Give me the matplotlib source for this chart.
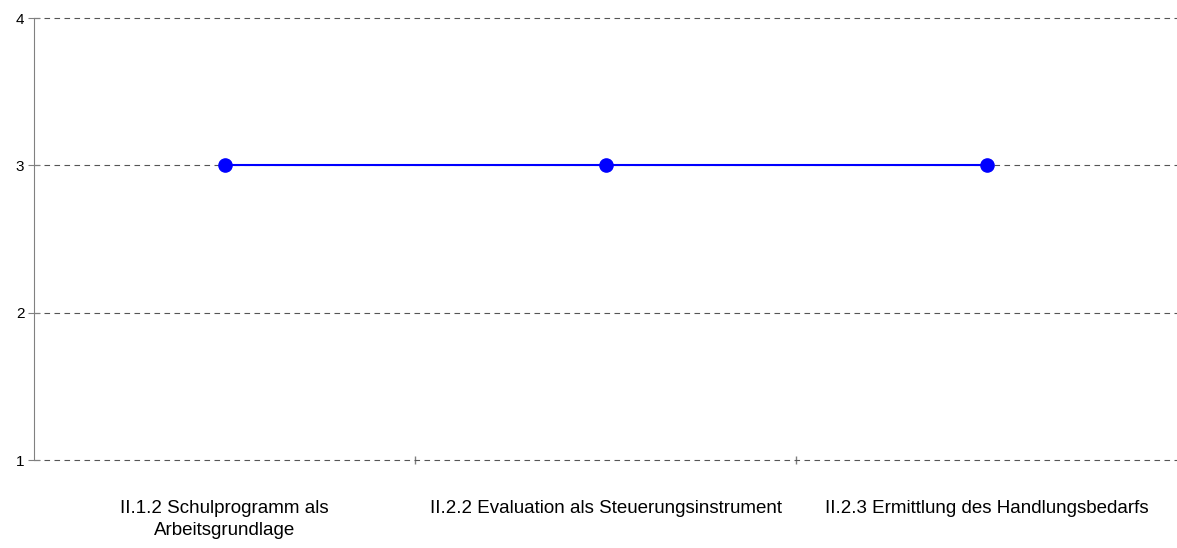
import matplotlib.pyplot as plt

# data
categories = ['II.1.2 Schulprogramm als\nArbeitsgrundlage',
              'II.2.2 Evaluation als Steuerungsinstrument',
              'II.2.3 Ermittlung des Handlungsbedarfs']
values = [3, 3, 3]
y_ticks = [1, 2, 3, 4]

plt.rcParams['font.family'] = ['Liberation Sans', 'DejaVu Sans']

fig = plt.figure(figsize=(11.77, 5.48), dpi=100)
ax = fig.add_axes([34 / 1177, 1 - 460 / 548, 1 - 34 / 1177, (460 - 18) / 548])

x = list(range(len(categories)))
ax.plot(x, values, color='#0000ff', linewidth=1.5, marker='o', markersize=9.5,
        zorder=3)

ax.set_xlim(-0.5, len(categories) - 0.5)
ax.set_ylim(1, 4)
ax.set_yticks(y_ticks)
ax.grid(axis='y', linestyle=(0, (5, 4)), color='#555555', linewidth=0.8)
for gl in ax.get_ygridlines():
    gl.set_clip_on(False)

for s in ['top', 'right', 'bottom']:
    ax.spines[s].set_visible(False)
ax.spines['left'].set_color('#808080')

# category labels in the middle, boundary ticks between them
ax.set_xticks([i + 0.5 for i in x[:-1]])
ax.set_xticklabels([])
ax.tick_params(axis='x', length=6, width=1, color='#808080', direction='inout')
ax.tick_params(axis='y', length=8, color='#808080', direction='inout',
               labelsize=11, pad=3)
for i, lab in enumerate(categories):
    ax.annotate(lab, (i, 1), xytext=(0, -29), textcoords='offset points',
                ha='center', va='top', fontsize=13.5, xycoords='data',
                linespacing=1.35, annotation_clip=False)

fig.savefig('out.png', dpi=100)
